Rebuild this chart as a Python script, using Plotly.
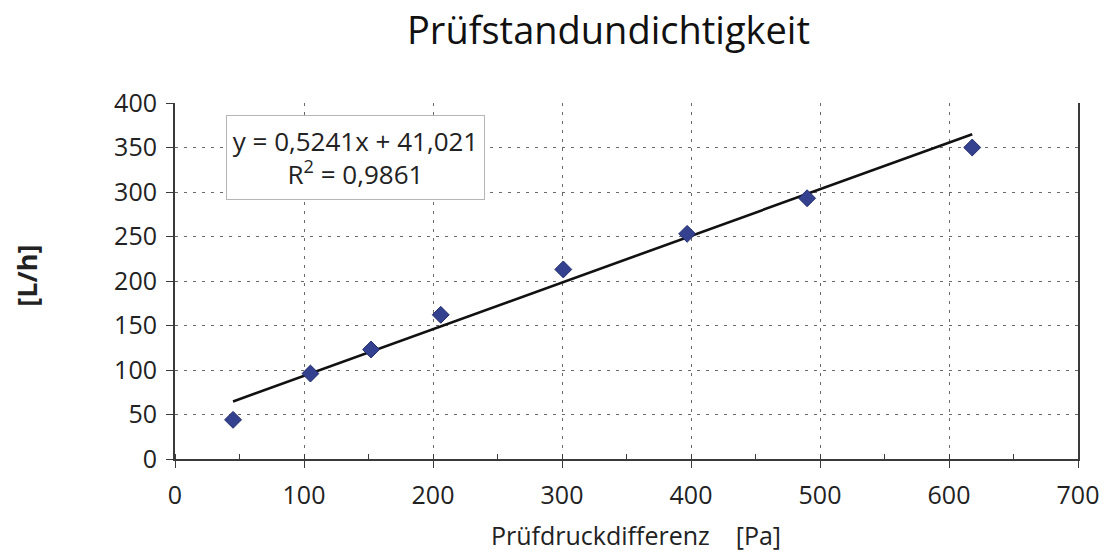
import plotly.graph_objects as go

# Measured leakage of the test stand
pressure_pa = [45, 105, 152, 206, 301, 397, 490, 618]
flow_lph = [44, 96, 123, 162, 213, 253, 293, 350]

# Linear regression as reported on the chart
slope = 0.5241
intercept = 41.021
r_squared = 0.9861

x_ticks = [0, 100, 200, 300, 400, 500, 600, 700]
y_ticks = [0, 50, 100, 150, 200, 250, 300, 350, 400]

title_text = "Prüfstandundichtigkeit"
x_title = "Prüfdruckdifferenz&nbsp;&nbsp;&nbsp;&nbsp;[Pa]"
y_title = "[L/h]"

fmt = lambda v, d: f"{v:.{d}f}".replace(".", ",")
eq_text = f"y = {fmt(slope, 4)}x + {fmt(intercept, 3)}<br>R<sup>2</sup> = {fmt(r_squared, 4)}"

trend_x = [min(pressure_pa), max(pressure_pa)]
trend_y = [slope * v + intercept for v in trend_x]

FONT = "Open Sans"
grid_col = "#6a6a6a"
axis_col = "#3a3a3a"

# plot-area pixel frame, used to place the free-standing texts
L, R, T, B = 175, 1082, 103, 459
W, H = R - L, B - T


def px(x):
    return (x - L) / W


def py(y):
    return (B - y) / H


fig = go.Figure()

fig.add_trace(go.Scatter(
    x=trend_x, y=trend_y, mode="lines",
    line=dict(color="#111111", width=2.6),
    hoverinfo="skip", showlegend=False,
))

fig.add_trace(go.Scatter(
    x=pressure_pa, y=flow_lph, mode="markers",
    marker=dict(symbol="diamond", size=13, color="#33418f",
                line=dict(color="#232d6e", width=1)),
    showlegend=False,
))

fig.update_layout(
    width=1111, height=559,
    margin=dict(l=L, r=1111 - R, t=T, b=559 - B),
    paper_bgcolor="white", plot_bgcolor="white",
    font=dict(family=FONT, color="#222222"),
    xaxis=dict(
        range=[0, 700], tickvals=x_ticks, ticktext=[str(v) for v in x_ticks],
        showgrid=True, gridcolor=grid_col, gridwidth=1, griddash="3px,6px",
        showline=True, linecolor=axis_col, linewidth=2,
        ticks="outside", ticklen=7, tickcolor=axis_col, tickwidth=1,
        minor=dict(dtick=50, tick0=0, ticks="inside", ticklen=5,
                   tickcolor=axis_col, showgrid=False),
        tickfont=dict(family=FONT, size=25, color="#222222"),
        zeroline=False, ticklabelstandoff=6,
    ),
    yaxis=dict(
        range=[0, 400], tickvals=y_ticks, ticktext=[str(v) for v in y_ticks],
        showgrid=True, gridcolor=grid_col, gridwidth=1, griddash="3px,6px",
        showline=True, linecolor=axis_col, linewidth=2, mirror=True,
        ticks="outside", ticklen=7, tickcolor=axis_col, tickwidth=1,
        tickfont=dict(family=FONT, size=25, color="#222222"),
        zeroline=False, ticklabelstandoff=4,
    ),
    annotations=[
        dict(text=title_text, xref="paper", yref="paper",
             x=px(610), y=py(29),
             xanchor="center", yanchor="middle", showarrow=False,
             font=dict(family=FONT, size=38, color="#111111")),
        dict(text=x_title, xref="paper", yref="paper",
             x=px(638), y=py(535),
             xanchor="center", yanchor="middle", showarrow=False,
             font=dict(family=FONT, size=25, color="#222222")),
        dict(text=f"<b>{y_title}</b>", xref="paper", yref="paper",
             x=px(25), y=py(276),
             xanchor="center", yanchor="middle", showarrow=False, textangle=-90,
             font=dict(family=FONT, size=27, color="#222222")),
        dict(text=eq_text, xref="paper", yref="paper",
             x=px(226), y=py(115),
             xanchor="left", yanchor="top", showarrow=False, align="center",
             bordercolor="#b5b5b5", borderwidth=1, borderpad=4, bgcolor="white",
             width=249, height=75,
             font=dict(family=FONT, size=26, color="#222222")),
    ],
)

fig.write_html("out.html")
